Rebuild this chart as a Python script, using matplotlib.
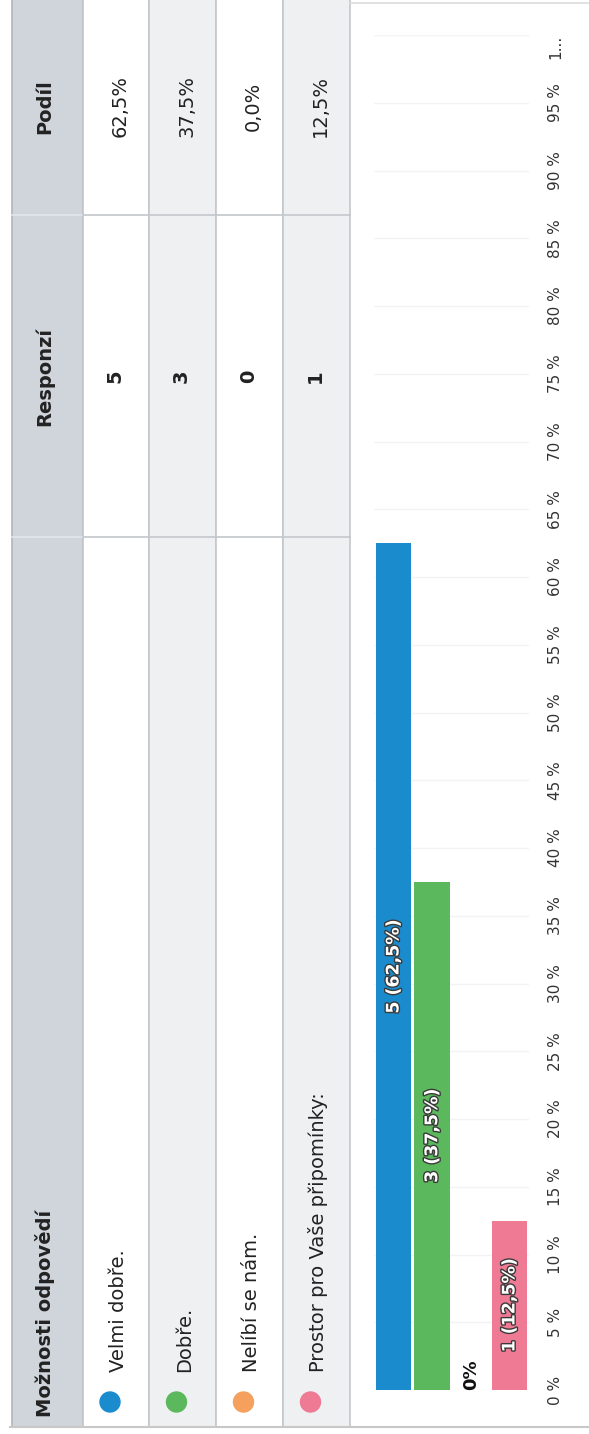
import matplotlib
matplotlib.use("Agg")
import matplotlib.pyplot as plt
import matplotlib.patheffects as pe
from matplotlib.patches import Rectangle, Circle

plt.rcParams['font.family'] = ['DejaVu Sans']

# data
options = ["Velmi dobře.", "Dobře.", "Nelíbí se nám.", "Prostor pro Vaše připomínky:"]
counts = [5, 3, 0, 1]
shares = [62.5, 37.5, 0.0, 12.5]
colors = ["#1a8ccd", "#5cb85c", "#f5a05c", "#ee7a94"]
header = ["Možnosti odpovědí", "Responzí", "Podíl"]
tick_vals = list(range(0, 101, 5))
tick_labels = [f"{t} %" for t in tick_vals[:-1]] + ["1..."]


def pct(v):
    return f"{v:.1f}".replace(".", ",") + "%"


W, H = 589, 1434
fig = plt.figure(figsize=(W / 100, H / 100), dpi=100)

# table drawn in pixel coordinates (page is rotated 90 degrees)
bg = fig.add_axes([0, 0, 1, 1])
bg.set_xlim(0, W)
bg.set_ylim(H, 0)
bg.axis("off")

row_edges = [83, 149, 216, 283, 350]
line_col = "#c3c7cb"

bg.add_patch(Rectangle((12, -5), 71, 1432, facecolor="#cfd5db", edgecolor="#b0b6bc", lw=1.2))
for i in range(len(options)):
    x0, x1 = row_edges[i], row_edges[i + 1]
    fill = "white" if i % 2 == 0 else "#eff0f1"
    bg.add_patch(Rectangle((x0, -5), x1 - x0, 1432, facecolor=fill, edgecolor=line_col, lw=1.2))

for yy in [215, 537]:
    bg.plot([12, 83], [yy, yy], color="#e2e6ea", lw=1.2)
    bg.plot([83, 350], [yy, yy], color=line_col, lw=1.2)
bg.plot([350, W], [3, 3], color="#dcdcdc", lw=1.2)
bg.plot([10, W], [1427, 1427], color="#c8c8c8", lw=1.5)

# header texts
hx = 45
bg.text(hx, 1417, header[0], rotation=90, ha="center", va="bottom", fontsize=14,
        fontweight="bold", color="#222222")
bg.text(hx, 377, header[1], rotation=90, ha="center", va="center", fontsize=14,
        fontweight="bold", color="#222222")
bg.text(hx, 107, header[2], rotation=90, ha="center", va="center", fontsize=14,
        fontweight="bold", color="#222222")

# rows
for i, (opt, c, s, col) in enumerate(zip(options, counts, shares, colors)):
    cx = (row_edges[i] + row_edges[i + 1]) / 2
    bg.add_patch(Circle((cx - 6, 1402), 10, color=col))
    bg.text(cx + 2, 1372, opt, rotation=90, ha="center", va="bottom", fontsize=14,
            color="#222222")
    bg.text(cx - 1, 376, str(c), rotation=90, ha="center", va="center", fontsize=14,
            fontweight="bold", color="#222222")
    bg.text(cx + 4, 106, pct(s), rotation=90, ha="center", va="center", fontsize=14,
            color="#222222")

# bar chart
ax = fig.add_axes([374.2 / W, (H - 1390) / H, 154.6 / W, 1355 / H])
ax.set_facecolor("none")
ax.set_xlim(-0.5, 3.5)
ax.set_ylim(0, 100)
ax.bar(range(len(shares)), shares, width=0.92, color=colors, zorder=2)
for side in ax.spines:
    ax.spines[side].set_visible(False)
ax.set_xticks([])
ax.yaxis.tick_right()
ax.set_yticks(tick_vals)
ax.set_yticklabels(tick_labels, rotation=90, fontsize=11, color="#333333")
ax.tick_params(axis="y", length=0, pad=14)
for lbl in ax.get_yticklabels():
    lbl.set_va("center")
ax.get_yticklabels()[-1].set_va("top")
ax.grid(axis="y", color="#f3f3f3", lw=1)
ax.set_axisbelow(True)

for i, (c, s) in enumerate(zip(counts, shares)):
    if s > 0:
        ax.text(i, s / 2, f"{c} ({pct(s)})", rotation=90, ha="center", va="center",
                fontsize=12.5, fontweight="bold", color="white", zorder=3,
                path_effects=[pe.withStroke(linewidth=2, foreground="#3a3a3a")])
    else:
        ax.text(i, 0, pct(s).replace(",0", ""), rotation=90,
                ha="center", va="bottom", fontsize=13, fontweight="bold",
                color="#111111", zorder=3)

fig.savefig("out.png", dpi=100)
